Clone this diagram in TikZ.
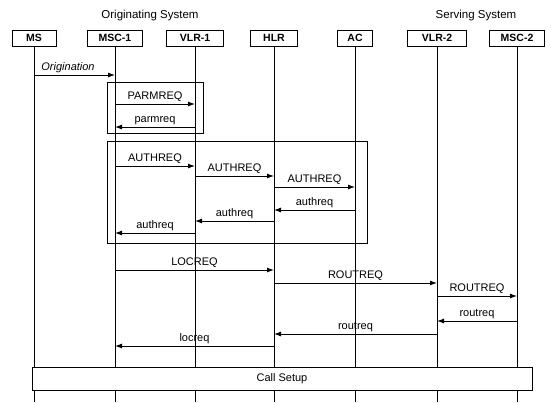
\documentclass[tikz,border=0pt]{standalone}
\usepackage{fontspec}
\setmainfont{Liberation Sans}
\usetikzlibrary{arrows.meta, positioning}

\begin{document}
\begin{tikzpicture}[
                x=1pt, y=-1pt,
                entity/.style={rectangle, draw, line width=0.9pt, minimum height=16pt,
                            inner sep=1pt, font=\fontsize{10.5}{12}\selectfont\bfseries},
                life/.style={line width=0.9pt},
                grp/.style={draw, line width=0.7pt},
                msg/.style={-{Latex[length=7pt, width=5pt]}, line width=0.9pt},
                lbl/.style={above, inner sep=1.5pt, font=\fontsize{11}{13}\selectfont}
            ]
                \useasboundingbox (0,0) rectangle (551,402);

                \node[font=\fontsize{11.5}{13}\selectfont] (orig) at (150,16) {Originating System};
                \node[font=\fontsize{11.5}{13}\selectfont] (serv) at (476,16) {Serving System};

                \node[entity, minimum width=44pt] (ms)   at (34,38)  {MS};
                \node[entity, minimum width=55pt] (msc1) at (115,38) {MSC-1};
                \node[entity, minimum width=57pt] (vlr1) at (195,38) {VLR-1};
                \node[entity, minimum width=47pt] (hlr)  at (274,38) {HLR};
                \node[entity, minimum width=35pt] (ac)   at (355,38) {AC};
                \node[entity, minimum width=59pt] (vlr2) at (437,38) {VLR-2};
                \node[entity, minimum width=55pt] (msc2) at (517,38) {MSC-2};

                \coordinate (bottom) at (0,402);
                \foreach \n in {ms, msc1, vlr1, hlr, ac, vlr2, msc2}
                    \draw[life] (\n.south) -- (\n.south |- bottom);

                % grouping boxes
                \draw[grp] (107,82) rectangle (203,133);
                \draw[grp] (107,141) rectangle (367,243);

                \draw[msg] (ms |- 0,75) -- node[lbl, pos=0.42, font=\fontsize{11}{13}\selectfont\itshape]{Origination} (msc1 |- 0,75);

                \draw[msg] (msc1 |- 0,104) -- node[lbl]{PARMREQ} (vlr1 |- 0,104);
                \draw[msg] (vlr1 |- 0,127) -- node[lbl]{parmreq} (msc1 |- 0,127);

                \draw[msg] (msc1 |- 0,166) -- node[lbl]{AUTHREQ} (vlr1 |- 0,166);
                \draw[msg] (vlr1 |- 0,176) -- node[lbl]{AUTHREQ} (hlr |- 0,176);
                \draw[msg] (hlr |- 0,187) -- node[lbl]{AUTHREQ} (ac |- 0,187);
                \draw[msg] (ac |- 0,210) -- node[lbl]{authreq} (hlr |- 0,210);
                \draw[msg] (hlr |- 0,221) -- node[lbl]{authreq} (vlr1 |- 0,221);
                \draw[msg] (vlr1 |- 0,233) -- node[lbl]{authreq} (msc1 |- 0,233);

                \draw[msg] (msc1 |- 0,270) -- node[lbl]{LOCREQ} (hlr |- 0,270);
                \draw[msg] (hlr |- 0,283) -- node[lbl]{ROUTREQ} (vlr2 |- 0,283);
                \draw[msg] (vlr2 |- 0,296) -- node[lbl]{ROUTREQ} (msc2 |- 0,296);
                \draw[msg] (msc2 |- 0,321) -- node[lbl]{routreq} (vlr2 |- 0,321);
                \draw[msg] (vlr2 |- 0,334) -- node[lbl]{routreq} (hlr |- 0,334);
                \draw[msg] (hlr |- 0,346) -- node[lbl]{locreq} (msc1 |- 0,346);

                \node[grp, fill=white, minimum width=500pt, minimum height=23pt, inner sep=0pt,
                      font=\fontsize{11}{13}\selectfont] (setup) at (282,378.5) {Call Setup};
            \end{tikzpicture}
\end{document}
